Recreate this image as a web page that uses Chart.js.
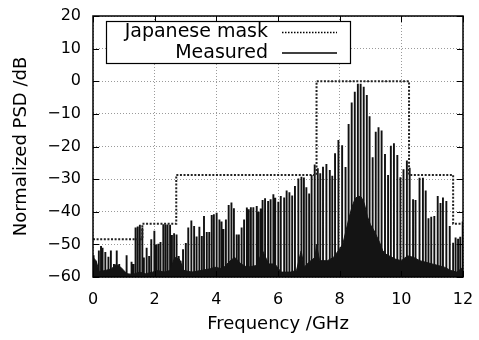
<!DOCTYPE html>
<html>
<head>
<meta charset="utf-8">
<script src="https://cdn.jsdelivr.net/npm/chart.js@4"></script>
<style>
  html, body { margin: 0; padding: 0; background: #fff; }
  canvas { display: block; }
</style>
</head>
<body>
<canvas id="psd" width="479" height="340"></canvas>
<script>
// Japanese UWB mask (level holds from each breakpoint to the next)
const maskFreq  = [0, 1.6, 2.7, 7.25, 10.25, 11.68, 12];
const maskLevel = [-48.4, -43.7, -28.7, 0, -28.7, -43.7, -43.7];

// measured spectral lines: frequency (GHz) and peak (dB)
const measFreq = [
  0.02, 0.1, 0.19, 0.26, 0.31, 0.40, 0.50, 0.58, 0.68, 0.77, 0.85, 0.94, 1.03, 1.09, 1.18, 1.25, 1.31,
  1.38, 1.45, 1.52, 1.60, 1.65, 1.74, 1.82, 1.89, 1.99, 2.05, 2.12, 2.19, 2.28, 2.35, 2.42, 2.50,
  2.56, 2.63, 2.71, 2.78, 2.84, 2.92, 3.01, 3.09, 3.19, 3.28, 3.36, 3.45, 3.53, 3.60, 3.69, 3.77,
  3.85, 3.92, 4.01, 4.10, 4.17, 4.23, 4.31, 4.40, 4.49, 4.57, 4.66, 4.73, 4.82, 4.90, 4.99, 5.05,
  5.12, 5.20, 5.31, 5.37, 5.44, 5.50, 5.58, 5.68, 5.76, 5.85, 5.91, 6.01, 6.09, 6.20, 6.28, 6.37,
  6.46, 6.55, 6.66, 6.76, 6.84, 6.92, 7.01, 7.09, 7.19, 7.29, 7.37, 7.46, 7.57, 7.68, 7.76, 7.85,
  7.96, 8.08, 8.19, 8.29, 8.39, 8.49, 8.59, 8.68, 8.78, 8.88, 8.97, 9.07, 9.17, 9.26, 9.36, 9.47,
  9.57, 9.66, 9.76, 9.87, 9.97, 10.07, 10.18, 10.27, 10.38, 10.46, 10.59, 10.70, 10.79, 10.88,
  10.97, 11.07, 11.18, 11.27, 11.35, 11.46, 11.57, 11.68, 11.76, 11.84, 11.91, 11.99
];
const measPeak = [
  -53.3, -55.3, -51.9, -50.5, -51, -52.3, -53.8, -51.9, -56, -51.9, -56, -58, -58.7, -53.3, -59.6, -55.3, -56,
  -44.8, -44.5, -44, -44.8, -54, -51, -53.6, -48.4, -45.8, -50, -49.8, -49.3, -43.8, -43.9, -43.9, -44,
  -47.1, -46.6, -47, -53.6, -55, -51.5, -49.6, -44.8, -42.7, -44.4, -47.6, -44.6, -47.4, -41.3, -46.2, -46.2,
  -41, -40.8, -40.3, -42.4, -43, -45.3, -42.4, -37.9, -37.2, -38.9, -47, -47, -44.8, -42.4, -38.7, -39.2,
  -38.6, -38.6, -38.2, -40, -39, -36.4, -35.9, -36.7, -36.2, -34.6, -35.7, -36.9, -35.2, -35.6, -33.5, -34,
  -35, -32.1, -29.8, -29.3, -29.5, -32.5, -34.4, -28.7, -25.5, -26.7, -28.2, -26.2, -25.4, -27.2, -29, -22.1,
  -18, -19.6, -26.3, -13.1, -6.5, -3.2, -0.8, -0.8, -1.7, -4.2, -10.7, -23.3, -15.5, -14.1, -15.1, -22.3,
  -28.7, -19.8, -19, -22.6, -29.4, -27, -24.3, -26.5, -36.2, -36.4, -29.6, -29.6, -33.5, -42,
  -41.5, -41.3, -35.2, -37.3, -35.6, -36.7, -44.4, -49.5, -47.9, -48.3, -47.7, -43
];

// noise floor between the lines
const floorFreq = [
  0, 0.1, 0.2, 0.4, 0.6, 0.75, 0.9, 1.1, 1.3, 1.5, 1.7, 1.9, 2.1, 2.3, 2.5, 2.65, 2.8, 2.95,
  3.2, 3.5, 3.8, 3.95, 4.2, 4.45, 4.6, 4.8, 5.0, 5.3, 5.5, 5.7, 5.9, 6.1, 6.4, 6.6, 6.75, 6.85,
  7.0, 7.2, 7.25, 7.35, 7.6, 7.8, 7.95, 8.1, 8.2, 8.3, 8.4, 8.5, 8.6, 8.7, 8.8, 8.9, 9.0, 9.1,
  9.2, 9.3, 9.4, 9.5, 9.6, 9.8, 10.0, 10.2, 10.4, 10.6, 10.8, 11.0, 11.2, 11.4, 11.6, 11.8, 12
];
const floorLevel = [
  -54, -55, -58.4, -58, -57.5, -56.1, -57, -59, -59.2, -58.5, -59, -58.6, -58, -58.5, -58, -54, -54.5, -58,
  -58.5, -58, -57.5, -57, -57.5, -55, -54, -56, -57, -56.5, -52, -56, -56, -58.5, -58.5, -58, -52, -57,
  -55.5, -54, -50, -55, -55, -54, -52, -50, -46, -42, -38.5, -36, -35.2, -35.5, -37.5, -41.5, -44, -45.5,
  -47.5, -49.5, -52, -53, -53.5, -54.5, -55, -53.5, -54, -55, -55.5, -56, -56.5, -57, -58, -58.5, -57
];

const xTicks = [0, 2, 4, 6, 8, 10, 12];
const yTicks = [-60, -50, -40, -30, -20, -10, 0, 10, 20];

const FONT = 'DejaVu Sans';

const maskPts = maskFreq.map((f, i) => ({x: f, y: maskLevel[i]}));
const spikePts = [];
measFreq.forEach((f, i) => {
  spikePts.push({x: f, y: -60}, {x: f, y: measPeak[i]}, {x: f, y: -60});
});
const floorPts = floorFreq.map((f, i) => ({x: f, y: floorLevel[i]}));

const minus = v => (v < 0 ? '\u2212' + Math.abs(v) : String(v));

// frame, inner tick marks and the gnuplot style key
const framePlugin = {
  id: 'frame',
  afterDraw(chart) {
    const {ctx, chartArea: a, scales} = chart;
    ctx.save();
    ctx.strokeStyle = '#000';
    ctx.lineWidth = 1;
    ctx.beginPath();
    yTicks.forEach(v => {
      const y = Math.round(scales.y.getPixelForValue(v)) + 0.5;
      ctx.moveTo(a.left, y); ctx.lineTo(a.left + 6, y);
      ctx.moveTo(a.right, y); ctx.lineTo(a.right - 6, y);
    });
    xTicks.forEach(v => {
      const x = Math.round(scales.x.getPixelForValue(v)) + 0.5;
      ctx.moveTo(x, a.bottom); ctx.lineTo(x, a.bottom - 6);
      ctx.moveTo(x, a.top); ctx.lineTo(x, a.top + 6);
    });
    ctx.stroke();
    ctx.lineWidth = 1.5;
    ctx.strokeRect(a.left, a.top, a.right - a.left, a.bottom - a.top);

    // key
    const kx = 106, ky = 21, kw = 244, kh = 42;
    ctx.fillStyle = '#fff';
    ctx.fillRect(kx, ky, kw, kh);
    ctx.lineWidth = 1.2;
    ctx.strokeRect(kx + 0.5, ky + 0.5, kw, kh);
    ctx.fillStyle = '#000';
    ctx.font = '19px "' + FONT + '"';
    ctx.textAlign = 'right';
    ctx.textBaseline = 'middle';
    const ds = chart.data.datasets;
    ctx.fillText(ds[0].label, 268, 32);
    ctx.fillText(ds[1].label, 268, 53);
    ctx.lineWidth = 1.5;
    ctx.setLineDash([1.5, 1.5]);
    ctx.beginPath(); ctx.moveTo(282, 32.5); ctx.lineTo(337, 32.5); ctx.stroke();
    ctx.setLineDash([]);
    ctx.beginPath(); ctx.moveTo(282, 53); ctx.lineTo(337, 53); ctx.stroke();
    ctx.restore();
  }
};

new Chart(document.getElementById('psd'), {
  type: 'line',
  data: {
    datasets: [
      {
        label: 'Japanese mask',
        data: maskPts,
        stepped: true,
        borderColor: '#222',
        borderWidth: 2,
        borderDash: [2, 1.6],
        pointRadius: 0,
        fill: false,
        order: 0
      },
      {
        label: 'Measured',
        data: spikePts,
        borderColor: '#111',
        borderWidth: 1.9,
        pointRadius: 0,
        fill: false,
        order: 2
      },
      {
        label: 'floor',
        data: floorPts,
        borderColor: '#141414',
        backgroundColor: '#141414',
        borderWidth: 1,
        pointRadius: 0,
        fill: 'start',
        order: 1
      }
    ]
  },
  options: {
    responsive: false,
    animation: false,
    devicePixelRatio: 1,
    layout: {padding: {top: 16, right: 16, left: 0, bottom: 0}},
    plugins: {legend: {display: false}, tooltip: {enabled: false}},
    scales: {
      x: {
        type: 'linear',
        min: 0, max: 12,
        afterFit: s => { s.height = 63; s.paddingLeft = 0; s.paddingRight = 0; },
        afterBuildTicks: s => { s.ticks = xTicks.map(v => ({value: v})); },
        grid: {color: '#9a9a9a', lineWidth: 1, drawTicks: false},
        border: {display: false, dash: [1, 2]},
        ticks: {color: '#000', padding: 13, font: {family: FONT, size: 16}, maxRotation: 0},
        title: {display: true, text: 'Frequency /GHz', color: '#000',
                font: {family: FONT, size: 18}, padding: {top: 0, bottom: 5}}
      },
      y: {
        min: -60, max: 20,
        afterFit: s => { s.width = 93; s.paddingTop = 0; s.paddingBottom = 0; },
        afterBuildTicks: s => { s.ticks = yTicks.map(v => ({value: v})); },
        grid: {color: '#9a9a9a', lineWidth: 1, drawTicks: false},
        border: {display: false, dash: [1, 2]},
        ticks: {color: '#000', padding: 12, font: {family: FONT, size: 16}, callback: minus},
        title: {display: true, text: 'Normalized PSD /dB', color: '#000',
                font: {family: FONT, size: 18}, padding: {top: 11, bottom: 0}}
      }
    }
  },
  plugins: [framePlugin]
});
</script>
</body>
</html>
